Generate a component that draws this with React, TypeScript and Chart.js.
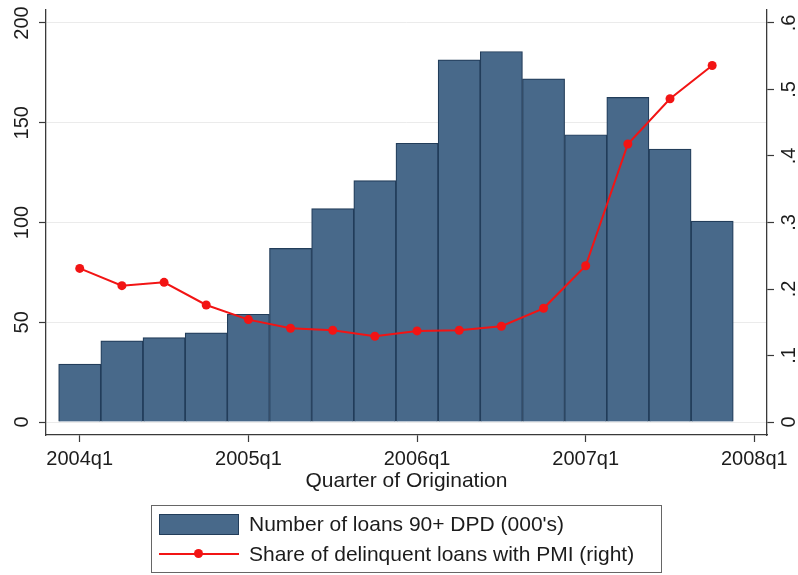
import { useEffect, useRef } from "react";
import { Chart, registerables } from "chart.js";

Chart.register(...registerables);

const quarters = [
  "2004q1", "2004q2", "2004q3", "2004q4",
  "2005q1", "2005q2", "2005q3", "2005q4",
  "2006q1", "2006q2", "2006q3", "2006q4",
  "2007q1", "2007q2", "2007q3", "2007q4",
];
// number of loans 90+ days past due, thousands
const loans90 = [29, 40.7, 42.3, 44.7, 54, 87, 107, 121, 139.7, 181.5, 185.7, 172, 144, 162.7, 136.8, 100.7];
// share of delinquent loans with PMI (right axis)
const pmiShare = [0.231, 0.205, 0.21, 0.176, 0.154, 0.141, 0.138, 0.129, 0.137, 0.138, 0.144, 0.171, 0.235, 0.418, 0.486, 0.536];

const xTicks = [0, 4, 8, 12, 16];
const xTickLabels = ["2004q1", "2005q1", "2006q1", "2007q1", "2008q1"];
const leftTicks = [0, 50, 100, 150, 200];
const rightTicks = [0, 0.1, 0.2, 0.3, 0.4, 0.5, 0.6];
const rightTickLabels = ["0", ".1", ".2", ".3", ".4", ".5", ".6"];

const FONT = "'Liberation Sans', Arial, sans-serif";
const BAR_FILL = "#48698a";
const BAR_EDGE = "#223d5a";
const RED = "#f21414";
const AXIS = "#3a3a3a";
const TEXT = "#1c1c1c";

const App = () => {
  const canvasRef = useRef<HTMLCanvasElement | null>(null);

  useEffect(() => {
    if (!canvasRef.current) return;
    const tickFont = { family: FONT, size: 20 };

    const chart = new Chart(canvasRef.current, {
      type: "bar",
      data: {
        datasets: [
          {
            type: "line",
            label: "Share of delinquent loans with PMI (right)",
            data: quarters.map((_, i) => ({ x: i, y: pmiShare[i] })),
            yAxisID: "y1",
            borderColor: RED,
            borderWidth: 2,
            pointRadius: 4.5,
            pointBackgroundColor: RED,
            pointBorderWidth: 0,
            tension: 0,
            order: 0,
          },
          {
            type: "bar",
            label: "Number of loans 90+ DPD (000's)",
            data: quarters.map((_, i) => ({ x: i, y: loans90[i] })),
            yAxisID: "y",
            backgroundColor: BAR_FILL,
            borderColor: BAR_EDGE,
            borderWidth: 1.2,
            barPercentage: 1,
            categoryPercentage: 1,
            order: 1,
          },
        ],
      } as any,
      options: {
        responsive: false,
        animation: false,
        layout: { padding: { top: 10, left: 0, right: 0, bottom: 77 } },
        plugins: {
          legend: { display: false },
          tooltip: { enabled: false },
        },
        scales: {
          x: {
            type: "linear",
            min: -0.8,
            max: 16.3,
            offset: false,
            afterBuildTicks: (scale: any) => {
              scale.ticks = xTicks.map((v) => ({ value: v }));
            },
            afterFit: (scale: any) => {
              scale.height = 63;
            },
            grid: {
              offset: false,
              drawOnChartArea: false,
              tickLength: 7,
              tickColor: AXIS,
              tickWidth: 1.2,
            },
            border: { display: true, color: AXIS, width: 1.3 },
            ticks: {
              autoSkip: false,
              maxRotation: 0,
              padding: 5,
              color: TEXT,
              font: tickFont,
              callback: (_v: any, i: number) => xTickLabels[i],
            },
            title: {
              display: true,
              text: "Quarter of Origination",
              color: TEXT,
              font: { family: FONT, size: 21 },
              padding: { top: 4, bottom: 4 },
            },
          },
          y: {
            type: "linear",
            position: "left",
            min: -6.5,
            max: 206.5,
            afterBuildTicks: (scale: any) => {
              scale.ticks = leftTicks.map((v) => ({ value: v }));
            },
            afterFit: (scale: any) => {
              scale.width = 46;
              scale.paddingTop = 0;
              scale.paddingBottom = 0;
            },
            grid: {
              color: "#ebebeb",
              lineWidth: 1,
              tickLength: 7,
              tickColor: AXIS,
              tickWidth: 1.2,
            },
            border: { display: true, color: AXIS, width: 1.3 },
            ticks: {
              autoSkip: false,
              minRotation: 90,
              maxRotation: 90,
              crossAlign: "center",
              padding: 0,
              color: TEXT,
              font: tickFont,
              callback: (v: any) => String(v),
            },
          },
          y1: {
            type: "linear",
            position: "right",
            min: -0.0195,
            max: 0.6195,
            afterBuildTicks: (scale: any) => {
              scale.ticks = rightTicks.map((v) => ({ value: v }));
            },
            afterFit: (scale: any) => {
              scale.width = 31;
              scale.paddingTop = 0;
              scale.paddingBottom = 0;
            },
            grid: {
              drawOnChartArea: false,
              tickLength: 7,
              tickColor: AXIS,
              tickWidth: 1.2,
            },
            border: { display: true, color: AXIS, width: 1.3 },
            ticks: {
              autoSkip: false,
              minRotation: 90,
              maxRotation: 90,
              crossAlign: "center",
              padding: 7,
              color: TEXT,
              font: tickFont,
              callback: (_v: any, i: number) => rightTickLabels[i],
            },
          },
        },
      } as any,
    });

    return () => chart.destroy();
  }, []);

  const legendText: React.CSSProperties = {
    position: "absolute",
    left: 97,
    height: 24,
    lineHeight: "24px",
    fontSize: 21,
    fontFamily: FONT,
    color: TEXT,
    whiteSpace: "nowrap",
  };

  return (
    <div style={{ position: "absolute", left: 0, top: 0, width: 798, height: 575, background: "#fff" }}>
      <canvas ref={canvasRef} width={798} height={575} style={{ display: "block" }} />
      <div
        style={{
          position: "absolute",
          left: 151,
          top: 505,
          width: 511,
          height: 68,
          boxSizing: "border-box",
          border: "1.5px solid #666",
        }}
      >
        <div
          style={{
            position: "absolute",
            left: 6.5,
            top: 7.5,
            width: 80,
            height: 21,
            boxSizing: "border-box",
            background: BAR_FILL,
            border: `1px solid ${BAR_EDGE}`,
          }}
        />
        <div style={{ ...legendText, top: 6 }}>Number of loans 90+ DPD (000's)</div>
        <div
          style={{
            position: "absolute",
            left: 6.5,
            top: 46.5,
            width: 80,
            height: 2,
            background: RED,
          }}
        />
        <div
          style={{
            position: "absolute",
            left: 42,
            top: 43,
            width: 9,
            height: 9,
            borderRadius: "50%",
            background: RED,
          }}
        />
        <div style={{ ...legendText, top: 36 }}>Share of delinquent loans with PMI (right)</div>
      </div>
    </div>
  );
};

export default App;
